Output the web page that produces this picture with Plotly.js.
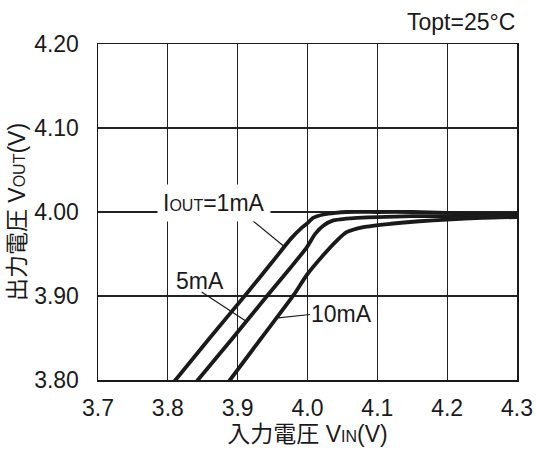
<!DOCTYPE html>
<html>
<head>
<meta charset="utf-8">
<script src="https://cdn.plot.ly/plotly-3.0.1.min.js"></script>
<style>html,body{margin:0;padding:0;background:#fff;}#chart{width:536px;height:452px;}</style>
</head>
<body>
<div id="chart"></div>
<script>
// Iout = 1mA
const vin1 = [3.800, 3.811, 3.860, 3.910, 3.950, 3.976, 3.990, 3.999, 4.008, 4.023, 4.040, 4.056, 4.100, 4.150, 4.200, 4.250, 4.300];
const vout1 = [3.789, 3.800, 3.850, 3.900, 3.941, 3.968, 3.980, 3.986, 3.993, 3.997, 3.999, 4.000, 4.000, 4.000, 3.999, 3.998, 3.998];
// Iout = 5mA
const vin5 = [3.832, 3.843, 3.893, 3.942, 3.975, 3.999, 4.011, 4.023, 4.037, 4.055, 4.071, 4.100, 4.150, 4.200, 4.250, 4.300];
const vout5 = [3.789, 3.800, 3.850, 3.900, 3.933, 3.958, 3.974, 3.984, 3.990, 3.992, 3.993, 3.994, 3.995, 3.995, 3.996, 3.996];
// Iout = 10mA
const vin10 = [3.879, 3.889, 3.934, 3.980, 3.999, 4.023, 4.042, 4.056, 4.080, 4.119, 4.160, 4.200, 4.250, 4.300];
const vout10 = [3.789, 3.800, 3.850, 3.901, 3.925, 3.949, 3.966, 3.976, 3.982, 3.986, 3.989, 3.991, 3.993, 3.994];

const xTicks = [3.7, 3.8, 3.9, 4.0, 4.1, 4.2, 4.3];
const xTickText = ["3.7", "3.8", "3.9", "4.0", "4.1", "4.2", "4.3"];
const yTicks = [3.80, 3.90, 4.00, 4.10, 4.20];
const yTickText = ["3.80", "3.90", "4.00", "4.10", "4.20"];

const FONT = "Liberation Sans, Arial, Noto Sans CJK JP, sans-serif";
const lineStyle = {color: "#1a1a1a", width: 3.8, shape: "spline", smoothing: 0.6};

const traces = [
  {x: vin1, y: vout1, mode: "lines", line: lineStyle, hoverinfo: "skip"},
  {x: vin5, y: vout5, mode: "lines", line: lineStyle, hoverinfo: "skip"},
  {x: vin10, y: vout10, mode: "lines", line: lineStyle, hoverinfo: "skip"}
];

const layout = {
  width: 536, height: 452,
  margin: {l: 98, r: 19, t: 44, b: 72},
  paper_bgcolor: "#fff", plot_bgcolor: "#fff",
  showlegend: false,
  font: {family: FONT, size: 23, color: "#1a1a1a"},
  xaxis: {
    range: [3.7, 4.3], tickvals: xTicks, ticktext: xTickText,
    showgrid: true, gridcolor: "#222", gridwidth: 1.2,
    showline: true, linecolor: "#1a1a1a", linewidth: 1.5, mirror: true,
    ticks: "", zeroline: false, ticklabelstandoff: 7,
    title: {text: "入力電圧 V<span style='font-size:16px'>IN</span>(V)", font: {size: 23}, standoff: 6}
  },
  yaxis: {
    range: [3.80, 4.20], tickvals: yTicks, ticktext: yTickText,
    showgrid: true, gridcolor: "#222", gridwidth: 1.2,
    showline: true, linecolor: "#1a1a1a", linewidth: 1.5, mirror: true,
    ticks: "", zeroline: false, ticklabelstandoff: 13,
    title: {text: "出力電圧 V<span style='font-size:16px'>OUT</span>(V)", font: {size: 23}, standoff: 2}
  },
  annotations: [
    {xref: "x", yref: "y", x: 3.8656, y: 4.011, showarrow: false, bgcolor: "#fff", borderpad: 5,
     text: "I<span style='font-size:16px'>OUT</span>=1mA", font: {size: 23}},
    {xref: "x", yref: "y", x: 3.8466, y: 3.918, showarrow: false, text: "5mA", font: {size: 23}},
    {xref: "x", yref: "y", x: 4.048, y: 3.878, showarrow: false, text: "10mA", font: {size: 23}},
    {xref: "paper", yref: "paper", x: 1, xanchor: "right", y: 1.065, yanchor: "middle", showarrow: false,
     text: "Topt=25°C", font: {size: 23}}
  ],
  shapes: [
    {type: "line", xref: "x", yref: "y", x0: 3.9152, y0: 3.994, x1: 3.9679, y1: 3.958, line: {color: "#1a1a1a", width: 1.2}},
    {type: "line", xref: "x", yref: "y", x0: 3.8484, y0: 3.9048, x1: 3.9138, y1: 3.869, line: {color: "#1a1a1a", width: 1.2}},
    {type: "line", xref: "x", yref: "y", x0: 4.0037, y0: 3.878, x1: 3.9583, y1: 3.874, line: {color: "#1a1a1a", width: 1.2}}
  ]
};

Plotly.newPlot("chart", traces, layout, {staticPlot: true, displayModeBar: false});
</script>
</body>
</html>
